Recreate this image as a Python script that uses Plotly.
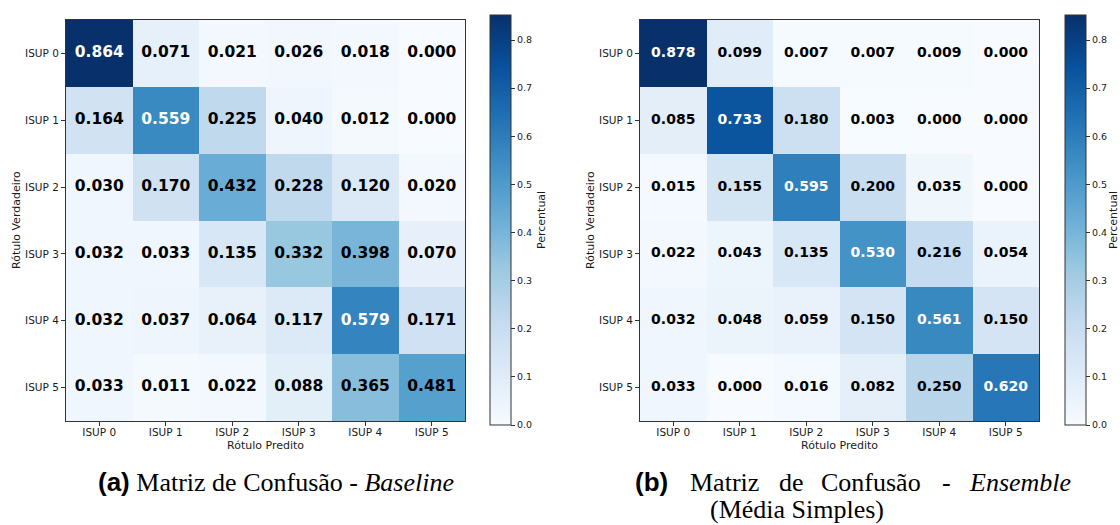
import plotly.graph_objects as go

labels = ["ISUP 0", "ISUP 1", "ISUP 2", "ISUP 3", "ISUP 4", "ISUP 5"]

baseline = [
    [0.864, 0.071, 0.021, 0.026, 0.018, 0.000],
    [0.164, 0.559, 0.225, 0.040, 0.012, 0.000],
    [0.030, 0.170, 0.432, 0.228, 0.120, 0.020],
    [0.032, 0.033, 0.135, 0.332, 0.398, 0.070],
    [0.032, 0.037, 0.064, 0.117, 0.579, 0.171],
    [0.033, 0.011, 0.022, 0.088, 0.365, 0.481],
]

ensemble = [
    [0.878, 0.099, 0.007, 0.007, 0.009, 0.000],
    [0.085, 0.733, 0.180, 0.003, 0.000, 0.000],
    [0.015, 0.155, 0.595, 0.200, 0.035, 0.000],
    [0.022, 0.043, 0.135, 0.530, 0.216, 0.054],
    [0.032, 0.048, 0.059, 0.150, 0.561, 0.150],
    [0.033, 0.000, 0.016, 0.082, 0.250, 0.620],
]

cbar_ticks = [0.0, 0.1, 0.2, 0.3, 0.4, 0.5, 0.6, 0.7, 0.8]

blues = [
    [0.000, "rgb(247,251,255)"],
    [0.125, "rgb(222,235,247)"],
    [0.250, "rgb(198,219,239)"],
    [0.375, "rgb(158,202,225)"],
    [0.500, "rgb(107,174,214)"],
    [0.625, "rgb(66,146,198)"],
    [0.750, "rgb(33,113,181)"],
    [0.875, "rgb(8,81,156)"],
    [1.000, "rgb(8,48,107)"],
]

W, H = 1120, 525
ZMAX = 0.852
TXT = "#1a1a1a"
LINE = "#333333"


def px(x):
    return x / W


def py(y):
    return 1 - y / H


fig = go.Figure()

panels = [
    dict(z=baseline, xa="x", ya="y", x0=66, x1=465, cbx=490, size=15.5, pct=541, ytitle=16),
    dict(z=ensemble, xa="x2", ya="y2", x0=640, x1=1039, cbx=1065, size=14, pct=1113, ytitle=590),
]

for p in panels:
    fig.add_trace(go.Heatmap(
        z=p["z"], x=labels, y=labels, xaxis=p["xa"], yaxis=p["ya"],
        colorscale=blues, zmin=0, zmax=ZMAX, hoverinfo="skip",
        colorbar=dict(
            x=px(p["cbx"]), xanchor="left", xref="paper",
            y=py(220), yanchor="middle", len=410, lenmode="pixels",
            thickness=21, thicknessmode="pixels", xpad=0, ypad=0,
            outlinewidth=1, outlinecolor=LINE,
            tickvals=cbar_ticks, tickformat=".1f", ticks="outside",
            ticklen=4, tickcolor=LINE, tickwidth=1,
            tickfont=dict(family="DejaVu Sans", size=9.5, color=TXT),
        ),
    ))
    xs, ys, ts, cs = [], [], [], []
    for i, row in enumerate(p["z"]):
        for j, v in enumerate(row):
            xs.append(labels[j])
            ys.append(labels[i])
            ts.append(f"<b>{v:.3f}</b>")
            cs.append("white" if v > 0.5 else "black")
    fig.add_trace(go.Scatter(
        x=xs, y=ys, text=ts, mode="text", xaxis=p["xa"], yaxis=p["ya"],
        textfont=dict(family="DejaVu Sans", size=p["size"], color=cs),
        hoverinfo="skip", showlegend=False,
    ))
    cx = (p["x0"] + p["x1"]) / 2
    fig.add_annotation(text="Rótulo Predito", x=px(cx), y=py(445), xref="paper", yref="paper",
                       xanchor="center", yanchor="middle",
                       showarrow=False, font=dict(family="DejaVu Sans", size=11, color=TXT))
    fig.add_annotation(text="Rótulo Verdadeiro", x=px(p["ytitle"]), y=py(220), xref="paper", yref="paper",
                       xanchor="center", yanchor="middle",
                       textangle=-90, showarrow=False, font=dict(family="DejaVu Sans", size=11, color=TXT))
    fig.add_annotation(text="Percentual", x=px(p["pct"]), y=py(220), xref="paper", yref="paper",
                       xanchor="center", yanchor="middle",
                       textangle=-90, showarrow=False, font=dict(family="DejaVu Sans", size=11, color=TXT))

axis_common = dict(
    showline=True, mirror=True, linecolor=LINE, linewidth=1,
    ticks="outside", ticklen=4, tickcolor=LINE, tickwidth=1,
    showgrid=False, zeroline=False,
    tickfont=dict(family="DejaVu Sans", size=10.5, color=TXT),
)

fig.update_layout(
    width=W, height=H, margin=dict(l=0, r=0, t=0, b=0),
    paper_bgcolor="white", plot_bgcolor="white", showlegend=False,
    xaxis=dict(domain=[px(66), px(465)], anchor="y", ticklabelstandoff=-3, **axis_common),
    yaxis=dict(domain=[py(421), py(20)], anchor="x", autorange="reversed", **axis_common),
    xaxis2=dict(domain=[px(640), px(1039)], anchor="y2", ticklabelstandoff=-3, **axis_common),
    yaxis2=dict(domain=[py(421), py(20)], anchor="x2", autorange="reversed", **axis_common),
)

SERIF = "Liberation Serif"
SANS = "Liberation Sans"
CAP = 26

fig.add_annotation(
    text=f'<span style="font-family:{SANS}"><b>(a)</b></span> Matriz de Confusão - <i>Baseline</i>',
    x=px(96), y=py(482), xref="paper", yref="paper", xanchor="left", yanchor="middle",
    showarrow=False, font=dict(family=SERIF, size=CAP, color="black"),
)

words_b = [
    (633, f'<span style="font-family:{SANS}"><b>(b)</b></span>'),
    (688, "Matriz"),
    (777, "de"),
    (819, "Confusão"),
    (940, "-"),
    (967, "<i>Ensemble</i>"),
]
for x, w in words_b:
    fig.add_annotation(text=w, x=px(x), y=py(482), xref="paper", yref="paper",
                       xanchor="left", yanchor="middle", showarrow=False,
                       font=dict(family=SERIF, size=CAP, color="black"))
fig.add_annotation(text="(Média Simples)", x=px(708), y=py(509), xref="paper", yref="paper",
                   xanchor="left", yanchor="middle", showarrow=False,
                   font=dict(family=SERIF, size=CAP, color="black"))

fig.write_html(
    "out.html",
    config={"displayModeBar": False},
    post_script="document.body.style.margin='0';document.body.style.overflow='hidden';",
)
